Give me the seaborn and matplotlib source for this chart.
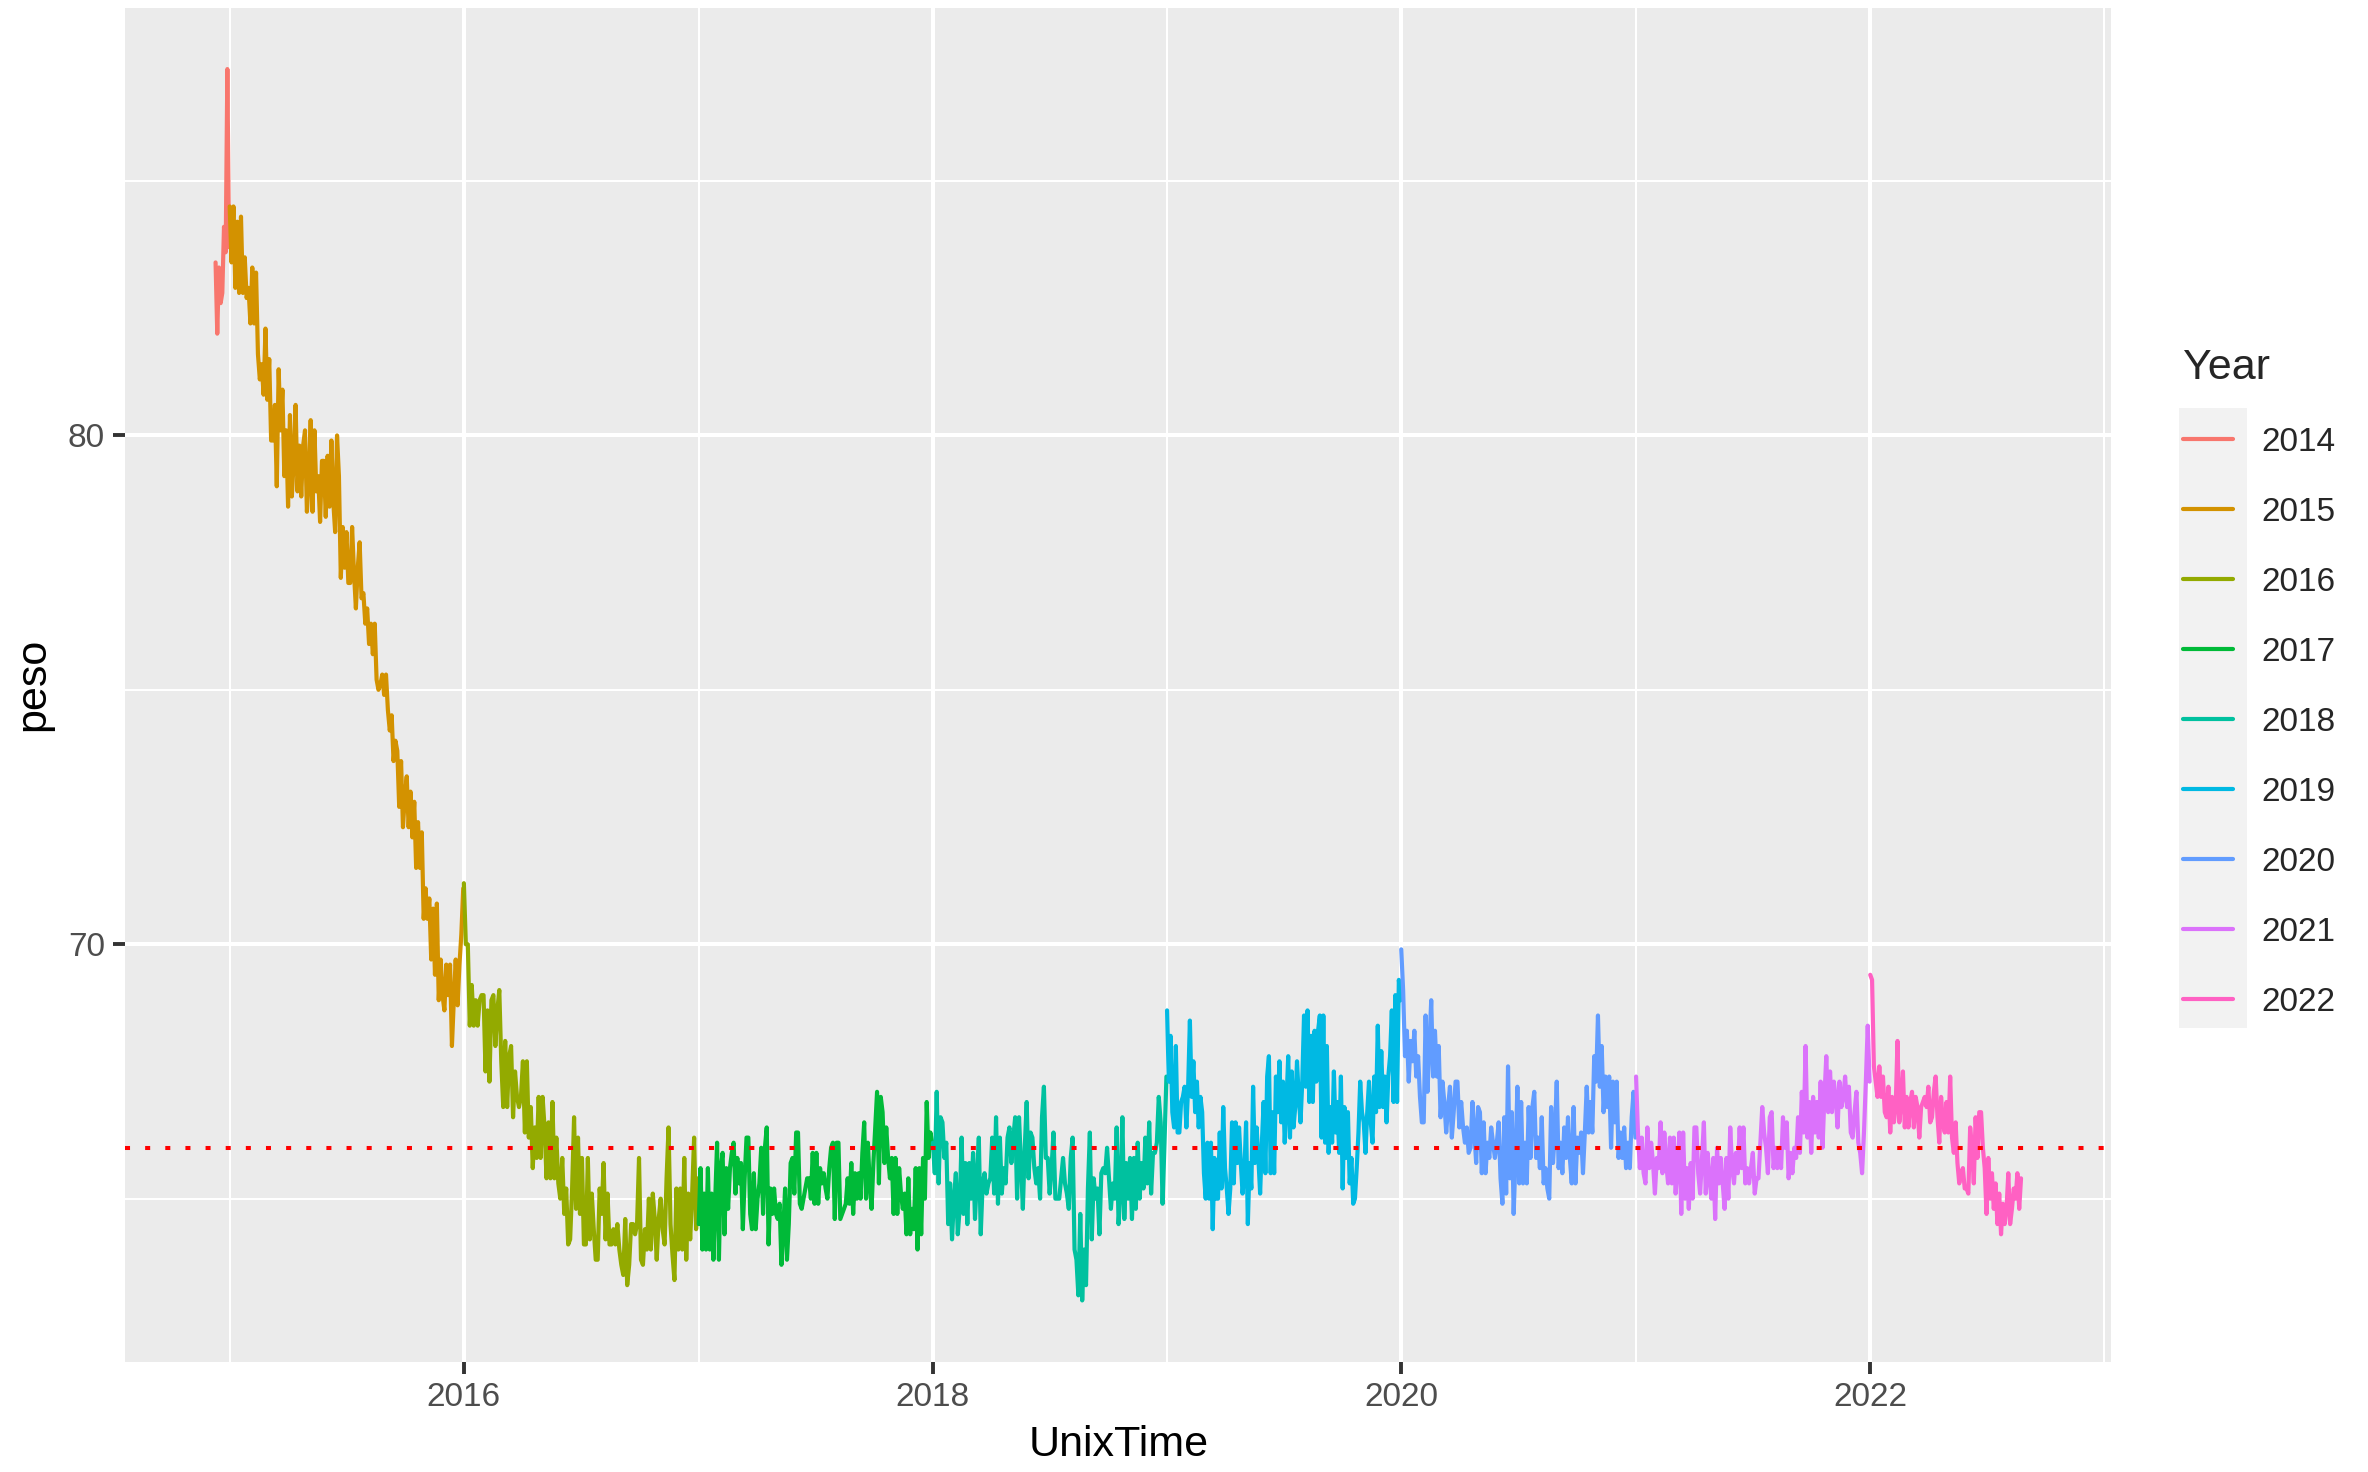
import numpy as np
import pandas as pd
import matplotlib
matplotlib.use("Agg")
import matplotlib.pyplot as plt
import matplotlib.dates as mdates
from matplotlib.ticker import MultipleLocator
from matplotlib.patches import Rectangle
import seaborn as sns

# ---------------- data ----------------
years = [2014, 2015, 2016, 2017, 2018, 2019, 2020, 2021, 2022]
year_start = ["2014-12-10", "2015-01-01", "2016-01-01", "2017-01-01", "2018-01-01",
              "2019-01-01", "2020-01-01", "2021-01-01", "2022-01-01"]
year_end = ["2014-12-31", "2015-12-31", "2016-12-31", "2017-12-31", "2018-12-31",
            "2019-12-31", "2020-12-31", "2021-12-31", "2022-08-24"]

peso_2014 = [83.4, 82.0, 83.3, 82.6, 82.8, 84.1, 83.6, 87.2, 83.7]

peso_2015 = [84.5, 83.4, 84.5, 82.9, 84.2, 82.8, 84.3, 82.8, 83.5, 82.7, 82.9, 82.2, 83.3, 82.2,
             83.2, 81.6, 81.1, 81.4, 80.8, 82.1, 80.7, 81.5, 79.9, 79.9, 80.6, 79.0, 81.3, 80.1,
             80.9, 79.2, 80.1, 78.6, 80.4, 78.8, 79.5, 80.6, 78.9, 79.8, 78.8, 79.8, 80.1, 78.5,
             79.1, 80.3, 78.5, 80.1, 78.9, 79.2, 78.3, 79.5, 79.5, 78.4, 79.6, 78.6, 79.9, 78.7,
             78.1, 80.0, 79.2, 77.2, 78.2, 77.4, 78.1, 77.1, 77.1, 78.2, 77.3, 76.6, 77.4, 77.9,
             76.8, 76.9, 76.3, 76.6, 75.9, 76.3, 75.7, 76.3, 75.2, 75.0, 75.1, 75.3,
             74.9, 75.3, 74.6, 74.2, 74.5, 73.6, 74.0,
             73.8, 72.7, 73.6, 72.3, 72.9, 73.3, 72.3, 73.0, 72.1, 72.8, 71.5, 72.4, 71.5, 72.2,
             70.5, 71.1, 70.5, 70.9, 69.7, 70.7, 69.4, 70.8, 68.9, 69.7, 69.0, 68.7, 69.6, 69.0,
             69.6, 68.0, 68.9, 69.7, 68.8, 69.6, 70.2, 71.1]

peso_2016 = [71.2, 70.0, 70.0, 68.4, 69.2, 68.4, 68.9, 68.4, 68.9, 69.0, 69.0, 67.5, 68.7, 67.3,
             68.9, 69.0, 68.0, 68.7, 69.1, 67.7, 66.8, 68.1, 66.8, 67.8, 68.0, 66.6, 67.5, 67.0,
             66.8, 67.0, 67.7, 66.3, 67.7, 66.2, 66.8, 65.6, 66.4, 65.8, 67.0, 65.8, 67.0, 66.4,
             65.4, 66.5, 65.4, 66.9, 65.4, 66.2, 65.3, 65.0, 65.8, 64.7, 65.2, 64.1, 64.2, 65.2,
             66.6, 64.8, 66.2, 64.7, 65.8, 64.1, 64.1, 65.8, 64.2, 65.1, 64.4, 63.8, 63.8, 65.2,
             64.7, 65.7, 64.2, 65.1, 64.1, 64.1, 64.4, 64.1, 64.5, 64.0, 63.7, 63.5, 64.6, 63.3,
             63.7, 64.5, 64.5, 64.3, 64.5, 65.8, 63.8, 63.7, 64.4, 64.0, 65.0, 64.0, 65.1,
             64.6, 63.8, 64.6, 65.0, 64.4, 64.1, 65.4, 66.4, 64.5, 63.9, 63.4, 65.2, 64.0, 65.2,
             64.0, 65.8, 63.8, 65.1, 64.2, 65.1, 66.2, 64.4, 65.4]

peso_2017 = [64.5, 65.6, 64.0, 65.1, 64.0, 65.6, 64.0, 65.1, 63.8, 65.0, 66.1, 63.8, 65.6, 65.9,
             64.3, 65.6, 64.8, 65.6, 65.9, 66.1, 65.1, 65.8, 65.3, 65.7, 64.4, 65.4, 66.2, 66.2,
             64.7, 64.4, 65.5, 64.4, 65.0, 65.3, 66.0, 64.7, 66.0, 66.4, 64.1, 65.2, 64.7, 65.2,
             64.7, 64.6, 64.9, 63.7, 64.4, 65.2, 63.8, 64.5, 65.7, 65.8, 65.1, 66.3, 66.3, 64.9,
             64.8, 65.0, 65.2, 65.4, 65.4, 65.0, 65.9, 64.9, 65.9, 64.9, 65.6, 65.3, 65.5, 65.2,
             65.0, 65.6, 66.0, 66.1, 64.6, 66.1, 66.1, 64.6, 64.7, 64.8, 64.9, 65.4, 64.9, 65.7,
             64.7, 65.5, 65.0, 65.5, 65.0, 65.9, 66.5, 65.0, 66.1, 65.3, 64.8, 65.7, 66.4, 67.1,
             65.3, 67.0, 66.7, 65.7, 66.4, 65.8, 65.4, 65.8, 64.7, 65.8, 64.7, 65.6, 65.1, 64.8,
             65.1, 64.3, 65.4, 64.3, 64.8, 64.4, 65.6, 64.0, 65.6, 64.3, 65.8, 65.0, 66.9, 65.8,
             66.3, 66.1]

peso_2018 = [66.1, 65.5, 67.1, 65.3, 66.6, 66.5, 65.8, 66.1, 64.5, 65.3, 64.2, 65.0, 65.5, 64.3,
             64.8, 66.2, 64.7, 65.7, 64.5, 65.7, 65.0, 65.9, 64.6, 65.4, 66.2, 64.3, 65.3, 65.5,
             65.1, 65.3, 65.4, 66.2, 65.1, 66.6, 64.9, 66.2, 65.1, 65.6, 65.3, 66.2, 66.4, 65.7,
             66.2, 66.6, 65.0, 66.6, 65.7, 64.8, 66.0, 66.9, 65.4, 66.3, 66.2, 65.6, 65.3, 65.6,
             65.0, 66.6, 67.2, 65.8, 65.8, 65.1, 65.6, 66.3, 65.0, 65.0, 65.0, 65.4, 65.8, 65.3,
             65.1, 64.8, 65.8, 66.2, 64.0, 63.8, 63.1, 64.7, 63.0, 64.0, 63.3, 65.2, 66.3, 64.2,
             65.4, 65.0, 65.2, 64.3, 65.5, 65.6, 65.5, 66.0, 65.4, 64.8, 65.3, 65.0, 66.4, 64.5,
             65.1, 66.6, 64.6, 65.7, 65.0, 65.8, 64.6, 65.8, 64.8, 66.1, 65.0, 65.7, 65.2, 66.2,
             65.3, 66.5, 65.1, 65.9, 65.9, 66.1, 67.0, 66.5, 64.9, 66.1, 67.4]

peso_2019 = [68.7, 67.3, 68.2, 66.7, 66.4, 68.0, 66.3, 66.3, 66.9, 67.0, 67.2, 66.4, 67.2, 68.5,
             67.0, 67.7, 66.7, 67.3, 66.4, 67.0, 66.7, 65.5, 65.0, 66.1, 65.0, 66.1, 64.4, 65.8,
             65.0, 65.0, 66.3, 65.2, 66.8, 65.6, 65.2, 64.7, 65.2, 66.5, 65.3, 66.5, 65.7, 66.4,
             65.7, 65.1, 65.5, 66.5, 64.5, 65.7, 65.2, 67.2, 65.7, 66.4, 65.8, 65.1, 66.1, 66.9,
             65.5, 67.4, 67.8, 65.5, 66.7, 65.5, 67.4, 66.7, 67.7, 66.5, 67.3, 66.1, 66.9, 67.8,
             66.2, 67.5, 66.4, 66.8, 67.7, 67.0, 66.5, 67.3, 68.6, 67.2, 68.7, 66.9, 68.2, 66.9,
             68.3, 67.3, 68.3, 68.6, 66.2, 68.6, 66.1, 68.0, 65.9, 66.8, 66.1, 67.5, 66.3, 66.9,
             65.9, 67.4, 65.2, 66.8, 65.8, 66.7, 65.3, 65.8, 64.9, 65.0, 65.6, 66.3, 67.3, 66.7,
             66.5, 65.9, 66.7, 67.3, 66.5, 66.1, 67.4, 66.7, 68.4, 66.8, 67.9, 66.8, 67.4, 66.5,
             67.4, 67.8, 68.7, 66.9, 69.0, 66.9, 69.3, 68.9]

peso_2020 = [69.9, 69.1, 67.8, 68.3, 67.3, 68.1, 67.7, 68.3, 67.4, 67.8, 67.0, 66.5, 66.5, 68.6,
             67.1, 68.0, 68.9, 67.4, 68.3, 67.4, 68.0, 66.6, 67.3, 66.9, 66.3, 66.8, 67.2, 66.2,
             66.7, 67.3, 67.3, 66.4, 66.9, 66.4, 66.1, 66.4, 65.9, 66.0, 66.9, 66.3, 65.7, 66.8,
             66.7, 65.5, 66.5, 65.5, 66.1, 65.8, 66.4, 66.1, 65.8, 66.1, 66.5, 65.4, 64.9, 66.6,
             65.1, 67.6, 65.4, 66.7, 64.7, 65.8, 67.2, 65.3, 66.9, 65.3, 66.1, 65.3, 66.8, 65.8,
             66.8, 67.1, 65.8, 66.2, 65.6, 66.6, 65.3, 65.6, 65.2, 65.0, 66.8, 65.7, 66.3, 67.3,
             65.6, 66.1, 65.5, 66.4, 65.8, 66.6, 65.8, 65.3, 66.8, 65.3, 66.2, 65.9, 66.3, 65.5,
             66.3, 67.2, 66.3, 66.9, 66.3, 67.8, 67.3, 68.6, 67.2, 68.0, 66.7, 67.4, 66.8, 67.4,
             66.0, 67.3, 66.5, 67.3, 65.8, 66.3, 65.8, 66.4, 65.6, 66.1, 65.6, 66.6, 67.1, 66.2]

peso_2021 = [67.4, 66.3, 65.6, 66.2, 65.5, 65.3, 66.4, 65.6, 66.1, 65.7, 65.1, 65.8, 65.6, 66.5,
             65.5, 66.3, 65.7, 65.3, 66.2, 65.3, 66.2, 65.1, 65.6, 66.3, 64.7, 66.3, 65.0, 65.6,
             64.8, 65.7, 65.0, 66.4,
             66.4, 65.5, 65.1, 65.8, 66.5, 65.1, 65.9, 65.4, 65.0, 65.8, 64.6, 66.0, 65.3, 65.8,
             65.3, 64.8, 65.8, 65.0, 66.4, 65.6, 65.3, 65.9, 65.5, 66.4, 65.6, 66.4, 65.3, 65.6,
             65.3, 65.6, 65.9, 65.1, 65.4, 65.4, 66.1, 66.8, 66.3, 66.0, 65.5, 66.6, 66.7, 65.6,
             66.0, 65.6, 66.0, 65.6, 66.6, 66.0, 66.5, 65.4, 65.9, 65.5, 66.0, 65.8, 66.6, 65.9,
             67.1, 66.3, 68.0, 66.2, 66.9, 65.9, 67.0, 66.3, 66.9, 66.2, 67.3, 66.0, 67.0, 67.8,
             66.7, 67.5, 66.7, 67.3, 67.0, 66.4, 67.3, 66.8, 67.0, 67.4, 66.8, 67.2, 66.3, 66.2,
             66.7, 67.1, 66.1, 65.9, 65.5, 66.3, 67.3, 68.4, 67.3]

peso_2022 = [69.4, 69.3, 67.6, 67.3, 67.0, 67.6, 67.0, 67.4, 66.7, 66.6, 67.2, 66.3, 67.0, 66.5,
             66.8, 68.1, 66.5, 66.9, 67.5, 66.4, 67.0, 66.4, 66.9, 67.1, 66.4, 67.0, 66.8, 66.2,
             66.8, 66.9, 67.0, 66.8, 67.2, 66.5, 66.6, 67.1, 67.4, 66.6, 66.1, 67.0, 66.5, 66.3,
             66.9, 66.3, 67.4, 66.2, 65.9, 66.5, 65.7, 65.3, 65.5, 65.6, 65.2, 65.2, 65.1, 66.4,
             66.0, 65.3, 66.6, 65.8, 66.7, 66.7, 66.0, 65.6, 64.7, 65.8, 65.0, 65.5, 64.8, 65.3,
             64.5, 65.1, 64.3, 64.9, 64.5, 64.8, 65.5, 64.5, 64.8, 65.2, 65.0, 65.5, 64.8, 65.4]

peso_by_year = [peso_2014, peso_2015, peso_2016, peso_2017, peso_2018,
                peso_2019, peso_2020, peso_2021, peso_2022]

target_peso = 66.0

year_colors = ["#F8766D", "#D39200", "#93AA00", "#00BA38", "#00C19F",
               "#00B9E3", "#619CFF", "#DB72FB", "#FF61C3"]

# ---------------- build the table ----------------
frames = []
for yr, s, e, vals in zip(years, year_start, year_end, peso_by_year):
    dates = pd.date_range(s, e, periods=len(vals))
    frames.append(pd.DataFrame({"UnixTime": dates, "peso": vals, "Year": str(yr)}))
df = pd.concat(frames, ignore_index=True)

# ---------------- style ----------------
sns.set_style("darkgrid", {"axes.facecolor": "#EBEBEB", "grid.color": "white"})
plt.rcParams["font.family"] = ["Liberation Sans", "DejaVu Sans"]

W, H = 2368, 1472
fig = plt.figure(figsize=(W / 200, H / 200), dpi=200)
fig.patch.set_facecolor("white")
ax = fig.add_axes([125.3 / W, 1 - 1362 / H, (2111.3 - 125.3) / W, (1362 - 7.5) / H])

sns.lineplot(data=df, x="UnixTime", y="peso", hue="Year",
             palette=dict(zip([str(y) for y in years], year_colors)),
             estimator=None, sort=False, linewidth=1.5, ax=ax)

ax.axhline(target_peso, color="#FF0000", linewidth=1.45,
           linestyle=(0, (1.25, 3.75)), zorder=5)

ax.margins(x=0.05, y=0.05)
ax.autoscale_view()

ax.xaxis.set_major_locator(mdates.YearLocator(2))
ax.xaxis.set_minor_locator(mdates.YearLocator(1))
ax.xaxis.set_major_formatter(mdates.DateFormatter("%Y"))
ax.yaxis.set_major_locator(MultipleLocator(10))
ax.yaxis.set_minor_locator(MultipleLocator(5))

ax.grid(which="major", color="white", linewidth=1.45)
ax.grid(which="minor", color="white", linewidth=0.72)
for sp in ax.spines.values():
    sp.set_visible(False)

ax.tick_params(which="major", length=4.3, width=1.4, color="#333333",
               labelcolor="#4D4D4D", labelsize=12, pad=3,
               bottom=True, left=True)
ax.tick_params(which="minor", length=0)

ax.set_xlabel("UnixTime", fontsize=15.5, color="black")
ax.set_ylabel("peso", fontsize=15.5, color="black")
ax.xaxis.set_label_coords(0.5, (1362 - 1445) / 1354.5)
ax.xaxis.label.set_va("center")
ax.yaxis.set_label_coords((33 - 125.3) / 1986, 0.5)
ax.yaxis.label.set_va("center")

# legend (ggplot-like)
sns.move_legend(ax, "upper left", bbox_to_anchor=(2183 / W, 1 - 348 / H),
                bbox_transform=fig.transFigure, frameon=False, title="Year",
                fontsize=12, title_fontsize=15.5, handlelength=1.5,
                handletextpad=0.85, labelspacing=1.17, borderpad=0,
                borderaxespad=0, alignment="left")
leg = ax.get_legend()
for h in leg.legend_handles:
    h.set_linewidth(1.5)

fig.add_artist(Rectangle((2179 / W, 1 - 1028 / H), (2247 - 2179) / W, (1028 - 408) / H,
                         transform=fig.transFigure, facecolor="#F2F2F2",
                         edgecolor="none", zorder=-1))

fig.savefig("out.png", dpi=200, facecolor="white")
